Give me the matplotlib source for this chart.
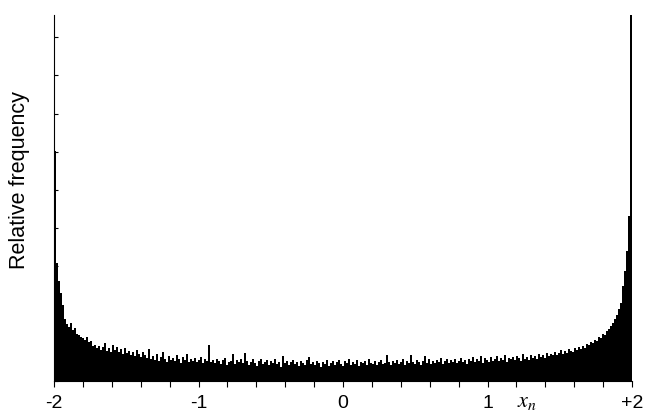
import numpy as np
import matplotlib.pyplot as plt

# histogram of x_n, bin heights (2 px bins from -2 to +2)
freq = [
    230, 118, 100, 88, 76, 62, 57, 54, 58, 51,
    53, 47, 46, 44, 43, 41, 44, 39, 40, 35,
    36, 33, 35, 31, 34, 38, 30, 33, 29, 36,
    31, 34, 29, 32, 27, 33, 28, 30, 26, 29,
    25, 31, 27, 24, 29, 26, 23, 32, 22, 25,
    21, 27, 20, 24, 29, 22, 19, 25, 21, 23,
    20, 26, 22, 18, 24, 21, 27, 19, 22, 20,
    23, 19, 21, 24, 18, 22, 20, 36, 19, 21,
    18, 22, 20, 17, 21, 23, 16, 19, 20, 27,
    17, 21, 19, 22, 18, 28, 20, 16, 19, 22,
    18, 15, 20, 22, 17, 19, 21, 16, 20, 18,
    22, 17, 19, 14, 25, 18, 20, 16, 19, 21,
    17, 19, 15, 20, 18, 16, 21, 24, 17, 19,
    16, 20, 18, 14, 19, 17, 21, 15, 18, 20,
    16, 19, 21, 17, 15, 20, 18, 22, 16, 19,
    17, 21, 15, 19, 18, 20, 16, 22, 18, 17,
    20, 16, 19, 21, 17, 18, 26, 19, 16, 20,
    18, 21, 17, 19, 22, 16, 20, 18, 26, 19,
    17, 21, 19, 16, 20, 25, 18, 22, 17, 20,
    18, 21, 19, 23, 17, 20, 22, 18, 21, 19,
    22, 18, 20, 23, 19, 21, 17, 22, 20, 24,
    19, 22, 20, 25, 18, 23, 21, 19, 24, 20,
    22, 25, 20, 23, 21, 26, 19, 23, 22, 24,
    21, 25, 23, 20, 27, 22, 24, 21, 26, 23,
    25, 22, 27, 24, 26, 23, 28, 25, 27, 26,
    29, 26, 28, 31, 27, 30, 28, 32, 30, 29,
    33, 31, 34, 32, 35, 33, 37, 36, 39, 38,
    41, 40, 44, 43, 47, 46, 50, 52, 55, 58,
    62, 66, 72, 78, 95, 110, 130, 165, 366,
]
x_min, x_max = -2, 2
y_max = 366
y_step = 38.2
tick_vals = [-2, -1, 0, 1, 2]
tick_text = ['-2', '-1', '0', '1', '+2']

freq = np.array(freq, dtype=float)
edges = np.linspace(x_min, x_max, len(freq) + 1)

plt.rcParams['mathtext.fontset'] = 'stix'

fig = plt.figure(figsize=(6.45, 4.18), dpi=100)
ax = fig.add_axes([54 / 645, 37 / 418, 578 / 645, 366 / 418])

ax.stairs(freq, edges, fill=True, color='black', linewidth=0)

ax.set_xlim(x_min, x_max)
ax.set_ylim(0, y_max)
ax.spines['top'].set_visible(False)
ax.spines['right'].set_visible(False)
ax.spines['left'].set_linewidth(0.8)
ax.spines['bottom'].set_linewidth(0.8)

ax.set_xticks(tick_vals)
ax.set_xticklabels(tick_text, fontfamily='Liberation Sans', fontsize=14)
ax.set_xticks(np.arange(x_min, x_max + 0.01, 0.2), minor=True)
ax.tick_params(axis='x', which='both', direction='out', length=4, width=0.8, pad=6)

ax.set_yticks(np.arange(0, y_max, y_step))
ax.set_yticklabels([])
ax.tick_params(axis='y', direction='in', length=3, width=0.8)

ax.set_ylabel('Relative frequency', fontfamily='Liberation Sans', fontsize=15.5)
ax.yaxis.set_label_coords(-0.041, 0.55)

ax.text(1.27, -0.057, r'$x_n$', transform=ax.get_xaxis_transform(),
        ha='center', va='center', fontsize=16)

fig.savefig('out.png', dpi=100)
